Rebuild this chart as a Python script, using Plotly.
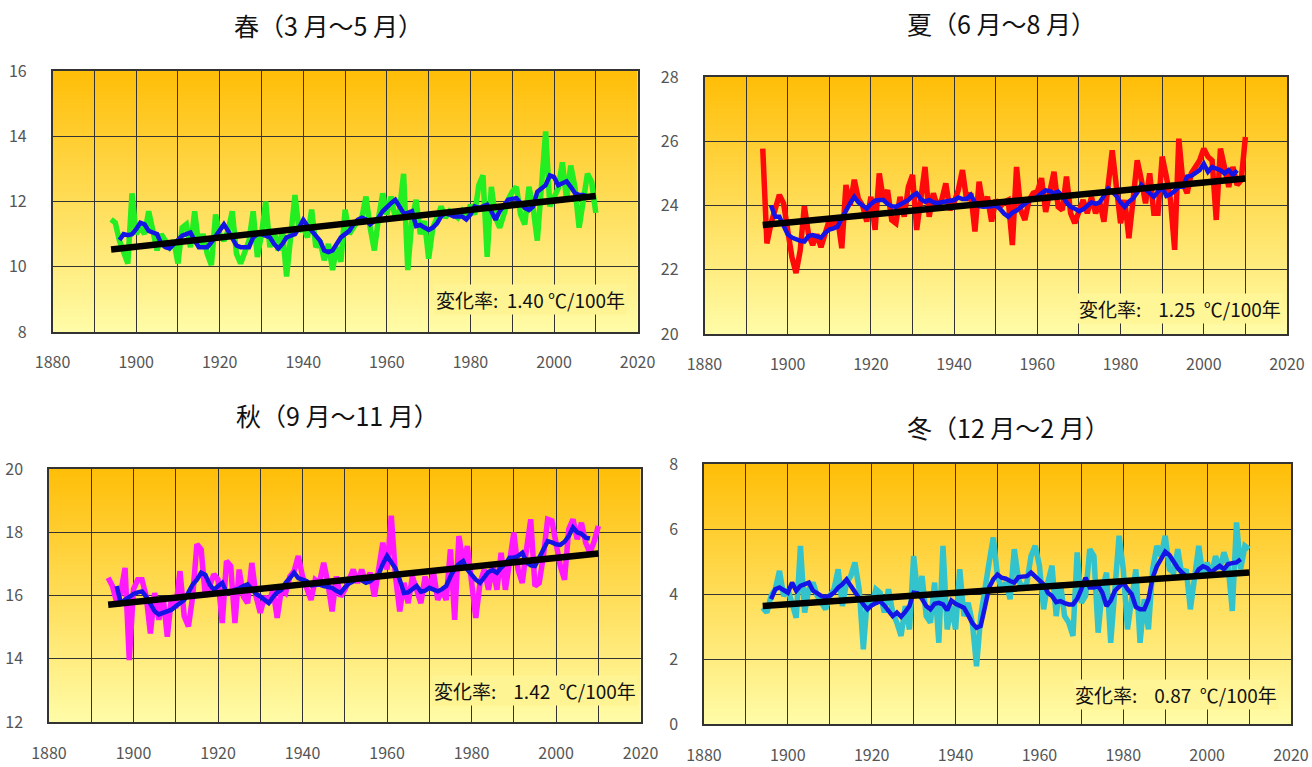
import base64
import struct
import zlib
import plotly.graph_objects as go

# ---------------- data ----------------
START_YEAR = 1894
MEAN_START_YEAR = 1896
TREND_YEARS = [1894, 2010]

spring_titles = "春（3\u00a0月～5\u00a0月）"
summer_titles = "夏（6\u00a0月～8\u00a0月）"
autumn_titles = "秋（9\u00a0月～11\u00a0月）"
winter_titles = "冬（12\u00a0月～2\u00a0月）"

rate_labels = ["1.40", "1.25", "1.42", "0.87"]

spring_annual = [
    11.45, 11.35, 10.8, 10.4, 10.1, 12.25, 11.0, 11.2, 11.0, 11.7,
    11.0, 10.5, 11.0, 10.8, 10.6, 10.8, 10.1, 11.2, 11.3, 10.6,
    11.7, 10.6, 11.0, 10.4, 10.05, 11.6, 11.0, 10.8, 11.1, 11.7,
    10.4, 10.1, 10.4, 10.8, 11.7, 10.3, 11.0, 12.0, 10.6, 11.1,
    10.5, 11.1, 9.7, 11.0, 12.2, 11.1, 11.2, 10.9, 11.75, 10.6,
    10.8, 10.2, 10.7, 9.9, 10.6, 10.15, 11.75, 11.0, 11.2, 11.4,
    11.5, 12.15, 11.2, 10.5, 11.5, 12.25, 11.6, 12.15, 11.5, 11.7,
    12.85, 9.9, 11.45, 12.05, 11.0, 11.4, 10.25, 11.2, 11.5, 11.85,
    11.5, 11.7, 11.6, 11.5, 11.7, 11.5, 11.9, 11.6, 12.5, 12.8,
    10.3, 12.45, 11.5, 11.2, 11.6, 12.05, 12.3, 12.45, 11.6, 11.3,
    12.45, 11.8, 10.8, 12.25, 14.15, 11.85, 12.1, 12.4, 13.2, 12.05,
    13.1, 12.45, 11.2, 12.05, 12.85, 12.6, 11.65,
]
spring_mean = [
    10.82, 11.0, 10.97, 11.0, 11.15, 11.35, 11.3, 11.1, 11.05, 11.0,
    10.7, 10.6, 10.56, 10.7, 10.85, 10.95, 11.0, 11.05, 10.8, 10.6,
    10.6, 10.6, 10.75, 10.95, 11.1, 11.3, 11.1, 10.9, 10.65, 10.6,
    10.6, 10.6, 10.9, 11.0, 11.0, 10.95, 10.9, 10.7, 10.56, 10.7,
    10.9, 10.95, 11.0, 11.2, 11.44, 11.25, 11.1, 10.95, 10.8, 10.5,
    10.45, 10.5, 10.7, 10.9, 11.0, 11.1, 11.3, 11.44, 11.5, 11.45,
    11.3, 11.4, 11.5, 11.7, 11.85, 11.95, 12.05, 11.85, 11.64, 11.65,
    11.7, 11.25, 11.28, 11.2, 11.13, 11.2, 11.33, 11.55, 11.64, 11.6,
    11.54, 11.54, 11.54, 11.45, 11.6, 11.85, 11.8, 11.85, 11.9, 11.7,
    11.44, 11.7, 11.9, 12.05, 12.08, 12.1, 11.95, 11.8, 11.74, 11.85,
    12.3, 12.4, 12.5, 12.8, 12.75, 12.5, 12.55, 12.62, 12.45, 12.26,
    12.2, 12.2, 12.15,
]
spring_trend = [10.53, 12.17]

summer_annual = [
    25.77, 22.82, 23.45, 23.9, 24.33, 24.07, 23.1, 22.4, 21.9, 22.6,
    23.98, 23.1, 22.77, 23.1, 22.7, 23.2, 23.55, 23.34, 23.6, 22.67,
    24.64, 24.0, 24.8, 24.2, 24.0, 23.5, 24.27, 23.24, 25.0, 24.17,
    24.48, 23.55, 23.45, 24.27, 23.65, 24.58, 24.95, 23.24, 24.27, 25.2,
    23.65, 24.38, 23.96, 24.17, 24.69, 23.86, 24.1, 24.48, 25.1, 24.17,
    24.38, 23.19, 24.74, 23.96, 24.27, 23.5, 24.17, 23.96, 24.1, 24.17,
    22.77, 25.2, 23.86, 23.55, 24.17, 24.38, 24.43, 24.85, 23.8, 24.38,
    25.05, 23.96, 23.86, 24.9, 23.76, 23.45, 23.76, 24.17, 23.76, 24.27,
    23.76, 24.1, 23.5, 24.58, 25.72, 24.58, 23.45, 24.17, 22.98, 24.17,
    25.41, 24.79, 24.07, 25.0, 23.76, 23.76, 25.52, 24.9, 24.17, 22.62,
    26.08, 24.69, 24.38, 25.0, 25.2, 25.4, 25.77, 25.52, 25.4, 23.55,
    25.77, 25.2, 24.58, 25.2, 24.64, 24.79, 26.13,
]
summer_mean = [
    24.0, 23.65, 23.65, 23.4, 23.1, 23.0, 22.93, 22.9, 22.88, 23.05,
    23.08, 23.03, 23.0, 23.15, 23.25, 23.29, 23.34, 23.6, 23.86, 24.07,
    24.27, 24.1, 24.0, 23.9, 24.05, 24.15, 24.17, 24.17, 24.05, 23.98,
    23.96, 24.05, 24.1, 24.17, 24.3, 24.38, 24.2, 24.12, 24.17, 24.1,
    24.07, 24.1, 24.12, 24.15, 24.17, 24.25, 24.2, 24.2, 24.33, 24.1,
    23.98, 23.96, 23.96, 23.98, 24.0, 23.9, 23.75, 23.65, 23.78, 23.84,
    23.95, 24.07, 24.15, 24.2, 24.27, 24.38, 24.47, 24.45, 24.38, 24.43,
    24.3, 24.1, 23.96, 23.9, 23.82, 23.88, 23.98, 24.1, 24.05, 24.1,
    24.3, 24.53, 24.43, 24.3, 24.1, 23.96, 24.12, 24.22, 24.4, 24.64,
    24.5, 24.38, 24.27, 24.43, 24.58, 24.3, 24.35, 24.45, 24.58, 24.58,
    24.9, 24.92, 25.0, 25.1, 25.3, 25.05, 25.2, 25.15, 25.1, 25.0,
    25.1, 24.95, 25.1,
]
summer_trend = [23.39, 24.84]

autumn_annual = [
    16.56, 16.3, 15.8, 16.1, 16.87, 13.96, 16.2, 16.5, 16.5, 15.97,
    14.8, 16.08, 15.23, 15.97, 14.7, 15.97, 15.6, 16.77, 15.34, 15.02,
    15.97, 17.62, 17.46, 15.97, 16.3, 16.67, 16.5, 15.13, 17.09, 16.93,
    15.13, 16.82, 15.97, 15.76, 17.03, 15.97, 15.45, 15.97, 15.76, 16.18,
    15.29, 16.2, 16.08, 16.6, 16.77, 17.25, 16.6, 16.18, 15.86, 16.5,
    16.4, 17.03, 16.4, 15.5, 16.6, 15.97, 16.18, 16.5, 16.82, 16.4,
    16.82, 16.4, 16.72, 15.97, 16.72, 17.67, 16.82, 18.52, 16.6, 15.5,
    16.4, 15.76, 16.6, 16.18, 15.76, 16.6, 16.18, 16.72, 15.86, 16.18,
    15.86, 17.46, 15.23, 17.88, 17.03, 17.56, 16.5, 15.29, 16.4, 16.82,
    16.18, 16.93, 16.18, 17.35, 16.18, 17.03, 17.99, 16.82, 16.4, 17.46,
    18.41, 16.3, 16.4, 17.25, 18.41, 18.36, 17.67, 16.93, 16.5, 18.1,
    18.41, 17.78, 18.3, 17.67, 17.35, 17.7, 18.2,
]
autumn_mean = [
    16.3, 15.76, 15.86, 15.97, 16.05, 16.1, 16.13, 15.97, 15.7, 15.5,
    15.4, 15.45, 15.5, 15.55, 15.66, 15.75, 15.86, 16.1, 16.35, 16.5,
    16.72, 16.65, 16.35, 16.18, 16.3, 16.4, 16.1, 16.1, 16.18, 16.22,
    16.3, 16.35, 16.2, 16.05, 15.97, 15.85, 15.76, 15.95, 16.1, 16.18,
    16.4, 16.55, 16.72, 16.55, 16.5, 16.45, 16.32, 16.33, 16.35, 16.3,
    16.28, 16.24, 16.15, 16.08, 16.25, 16.38, 16.45, 16.56, 16.48, 16.4,
    16.45, 16.55, 16.67, 17.0, 17.25, 17.05, 16.85, 16.5, 16.08, 16.1,
    16.2, 16.3, 16.12, 16.15, 16.24, 16.18, 16.13, 16.2, 16.3, 16.6,
    16.85, 17.0, 17.09, 16.82, 16.65, 16.5, 16.4, 16.6, 16.75, 16.8,
    16.72, 16.88, 17.0, 17.19, 17.19, 17.25, 17.35, 17.05, 16.95, 16.93,
    17.2, 17.5, 17.72, 17.68, 17.62, 17.6, 17.7, 17.88, 18.15, 18.0,
    17.95, 17.83, 17.8,
]
autumn_trend = [15.71, 17.33]

winter_annual = [
    3.58, 3.43, 3.94, 4.15, 4.71, 3.94, 4.15, 3.7, 3.27, 5.48,
    3.43, 4.15, 4.35, 3.94, 3.73, 3.53, 3.94, 4.15, 4.76, 3.63,
    4.35, 4.55, 4.97, 4.15, 2.3, 3.94, 3.63, 4.15, 4.04, 3.43,
    4.15, 3.43, 3.12, 2.71, 3.63, 2.91, 5.17, 3.94, 4.55, 3.32,
    3.12, 4.35, 2.5, 5.48, 2.91, 3.63, 2.91, 4.76, 3.32, 3.73,
    3.12, 1.78, 3.32, 4.04, 4.97, 5.74, 4.55, 4.15, 4.35, 3.84,
    5.38, 4.45, 4.15, 4.35, 5.17, 5.48, 4.87, 3.53, 4.35, 4.87,
    3.32, 4.35, 3.32, 3.12, 2.71, 5.28, 3.73, 3.94, 5.38, 5.17,
    2.81, 4.15, 4.66, 2.5, 4.45, 5.79, 4.76, 2.91, 3.84, 4.76,
    2.5, 3.84, 2.91, 4.76, 5.48, 5.17, 5.79, 4.76, 4.66, 5.38,
    4.55, 4.76, 3.53, 4.55, 5.48, 4.55, 4.97, 4.55, 5.17, 4.76,
    5.28, 4.87, 3.48, 6.2, 4.76, 5.48, 5.38,
]
winter_mean = [
    3.84, 4.15, 4.2, 4.1, 4.04, 4.35, 4.1, 4.25, 4.3, 4.35,
    4.1, 4.0, 3.94, 3.9, 3.95, 4.04, 4.2, 4.3, 4.45, 4.25,
    4.04, 3.85, 3.68, 3.53, 3.65, 3.72, 3.78, 3.65, 3.5, 3.32,
    3.43, 3.3, 3.45, 3.63, 4.04, 4.02, 3.85, 3.63, 3.53, 3.7,
    3.73, 3.68, 3.5, 3.8, 3.7, 3.62, 3.58, 3.35, 3.1, 2.96,
    3.02, 3.6, 4.2, 4.45, 4.6, 4.5, 4.47, 4.4, 4.35, 4.52,
    4.52, 4.55, 4.66, 4.55, 4.45, 4.3, 4.04, 3.94, 3.75, 3.78,
    3.72, 3.68, 3.68, 3.85, 4.15, 4.5, 4.2, 4.2, 4.25, 4.04,
    3.63, 3.8, 4.1, 4.25, 4.35, 4.15, 4.0, 3.6, 3.53, 3.53,
    3.84, 4.5, 4.85, 5.07, 5.3, 5.2, 4.97, 4.8, 4.66, 4.55,
    4.55, 4.55, 4.76, 4.85, 4.8, 4.66, 4.78, 4.87, 4.76, 4.92,
    4.95, 4.97, 5.07,
]
winter_trend = [3.63, 4.66]

y_ranges = [[8, 16], [20, 28], [12, 20], [0, 8]]

# ---------------- styling ----------------
series_colors = ["#22EE22", "#FF0A0A", "#FF19FF", "#33C3CC"]
MEAN_COLOR = "#1414E6"
TREND_COLOR = "#000000"
GRAD_TOP = (255, 190, 8)
GRAD_BOTTOM = (255, 252, 168)

# pixel geometry of the four panels (left, right, top, bottom) on 1312x767
W, H = 1312, 767
panels_px = [
    (52.6, 637.6, 71, 332),
    (704.5, 1287, 77, 334),
    (49, 640.6, 469, 722),
    (704, 1291, 464, 724),
]
title_px = [(329, 25), (1001, 23), (337, 415), (1008, 427)]
rate_pos = [(0.982, 0.123), (0.993, 0.100), (0.996, 0.126), (0.980, 0.112)]
NB = "\u00a0"
rate_gaps = [NB * 2, NB * 4, NB * 4, NB * 4]
rate_gaps2 = [NB, NB * 2, NB * 2, NB * 2]
xtick_len = [15, 15, 16, 16]


def grad_color(t):
    return tuple(round(GRAD_TOP[k] + (GRAD_BOTTOM[k] - GRAD_TOP[k]) * t) for k in range(3))


def gradient_png(n=256):
    rows = []
    for i in range(n):
        r, g, b = grad_color(i / (n - 1))
        rows.append(b"\x00" + bytes([r, g, b]) * 2)
    raw = b"".join(rows)

    def chunk(tag, data):
        return (struct.pack(">I", len(data)) + tag + data
                + struct.pack(">I", zlib.crc32(tag + data) & 0xFFFFFFFF))

    png = (b"\x89PNG\r\n\x1a\n"
           + chunk(b"IHDR", struct.pack(">IIBBBBB", 2, n, 8, 2, 0, 0, 0))
           + chunk(b"IDAT", zlib.compress(raw, 9))
           + chunk(b"IEND", b""))
    return "data:image/png;base64," + base64.b64encode(png).decode()


GRAD_SRC = gradient_png()

titles = [spring_titles, summer_titles, autumn_titles, winter_titles]
annuals = [spring_annual, summer_annual, autumn_annual, winter_annual]
means = [spring_mean, summer_mean, autumn_mean, winter_mean]
trends = [spring_trend, summer_trend, autumn_trend, winter_trend]

FONT = "Noto Sans CJK JP"
fig = go.Figure()
layout = dict(
    width=W, height=H,
    margin=dict(l=0, r=0, t=0, b=0, autoexpand=False),
    paper_bgcolor="white",
    plot_bgcolor="rgba(0,0,0,0)",
    showlegend=False,
    font=dict(family=FONT, color="#222"),
    images=[], annotations=[],
)

for i in range(4):
    sfx = "" if i == 0 else str(i + 1)
    xa, ya = "x" + sfx, "y" + sfx
    yrs = list(range(START_YEAR, START_YEAR + len(annuals[i])))
    myrs = list(range(MEAN_START_YEAR, MEAN_START_YEAR + len(means[i])))
    fig.add_trace(go.Scatter(x=yrs, y=annuals[i], mode="lines", xaxis=xa, yaxis=ya,
                             line=dict(color=series_colors[i], width=5.5), hoverinfo="skip"))
    fig.add_trace(go.Scatter(x=myrs, y=means[i], mode="lines", xaxis=xa, yaxis=ya,
                             line=dict(color=MEAN_COLOR, width=4.5), hoverinfo="skip"))
    fig.add_trace(go.Scatter(x=TREND_YEARS, y=trends[i], mode="lines", xaxis=xa, yaxis=ya,
                             line=dict(color=TREND_COLOR, width=6.5), hoverinfo="skip"))

    l, r, t, b = panels_px[i]
    grid = "#333333"
    layout["xaxis" + sfx] = dict(
        domain=[l / W, r / W], anchor=ya, range=[1880, 2020], automargin=False,
        tick0=1880, dtick=20, showgrid=True, gridcolor=grid, gridwidth=1,
        minor=dict(tick0=1880, dtick=10, showgrid=True, gridcolor=grid, gridwidth=1),
        showline=True, mirror=True, linecolor="#333", linewidth=1.5,
        ticks="outside", ticklen=xtick_len[i], tickcolor="rgba(0,0,0,0)",
        tickfont=dict(size=16, color="#555", family=FONT), zeroline=False,
    )
    layout["yaxis" + sfx] = dict(
        domain=[1 - b / H, 1 - t / H], anchor=xa, range=y_ranges[i], automargin=False,
        dtick=2, showgrid=True, gridcolor=grid, gridwidth=1,
        showline=True, mirror=True, linecolor="#333", linewidth=1.5,
        ticks="outside", ticklen=21, tickcolor="rgba(0,0,0,0)",
        tickfont=dict(size=16, color="#555", family=FONT), zeroline=False,
    )
    layout["images"].append(dict(
        source=GRAD_SRC, xref=xa + " domain", yref=ya + " domain",
        x=0, y=1, sizex=1, sizey=1, sizing="stretch", layer="below",
        xanchor="left", yanchor="top",
    ))
    tx, ty = title_px[i]
    layout["annotations"].append(dict(
        text=titles[i], xref="paper", yref="paper", x=tx / W, y=1 - ty / H,
        xanchor="center", yanchor="middle", showarrow=False,
        font=dict(size=25, color="#111", family=FONT),
    ))
    rx, ry = rate_pos[i]
    bg = "rgb(%d,%d,%d)" % grad_color(1 - ry)
    layout["annotations"].append(dict(
        text="変化率:" + rate_gaps[i] + rate_labels[i] + rate_gaps2[i] + "℃/100年",
        xref=xa + " domain", yref=ya + " domain", x=rx, y=ry,
        xanchor="right", yanchor="middle", showarrow=False, bgcolor=bg,
        font=dict(size=19, color="#111", family=FONT),
    ))

fig.update_layout(**layout)
fig.write_html(
    "out.html",
    config={"displayModeBar": False},
    post_script="document.body.style.margin='0';document.body.style.padding='0';"
                "document.body.style.overflow='hidden';",
)
